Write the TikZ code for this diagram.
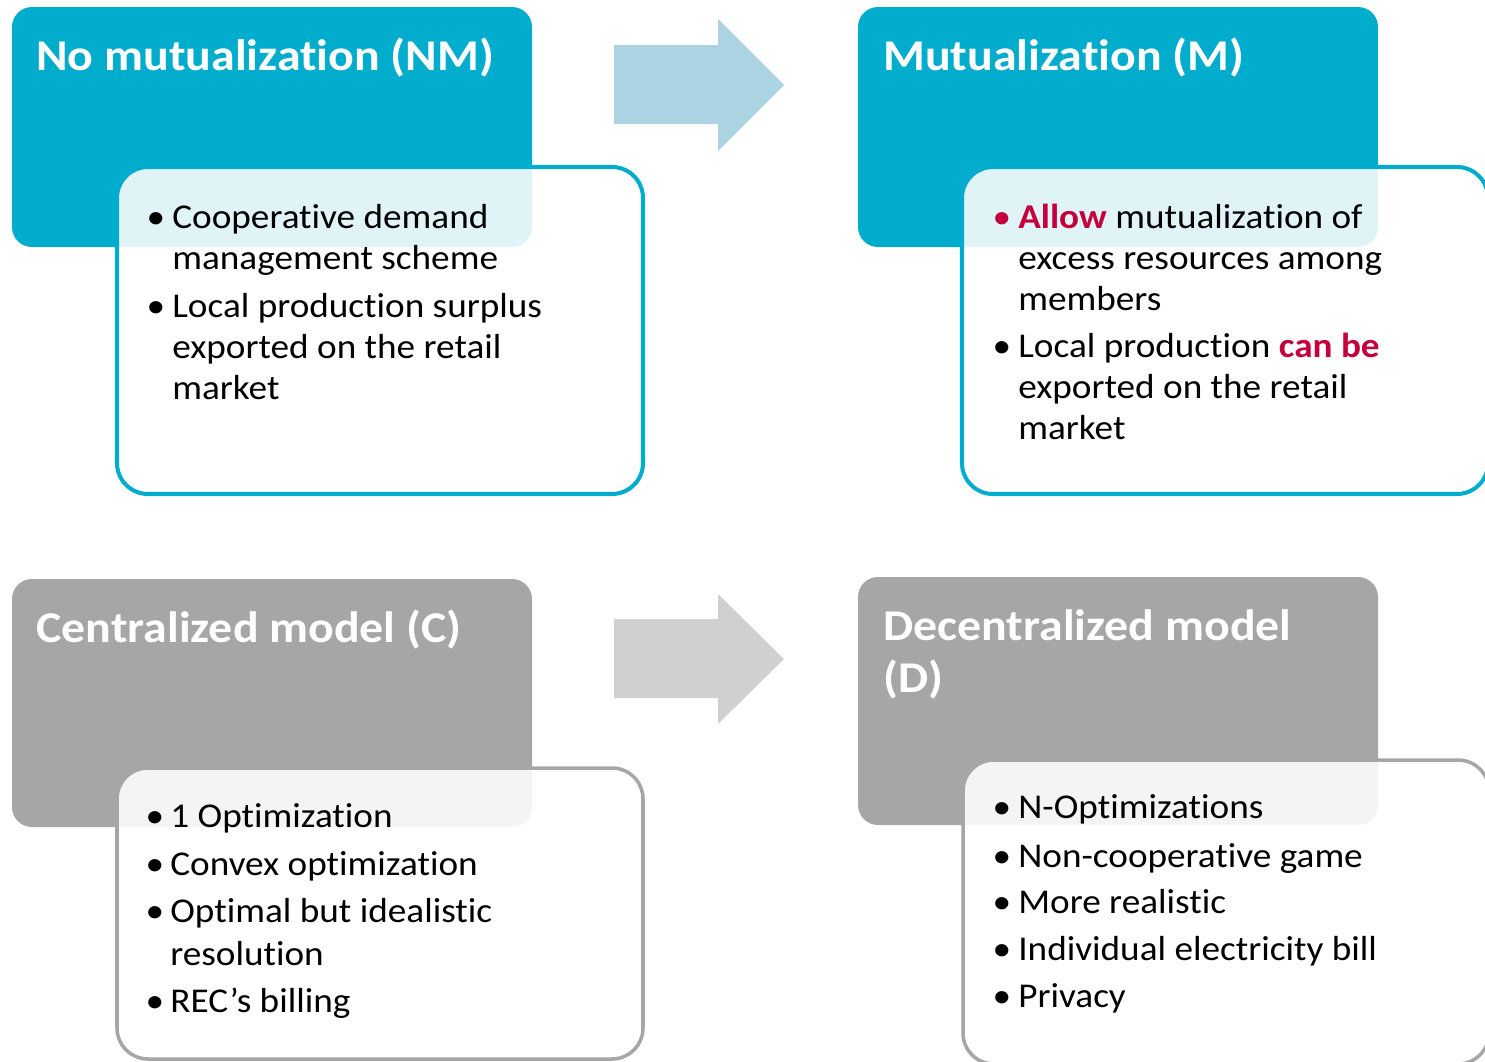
\documentclass[tikz,border=0pt]{standalone}
\usepackage{fontspec}
\setmainfont{Carlito}[FakeStretch=1.07, Ligatures=NoCommon]
\newfontfamily\titlefont{Carlito}[FakeStretch=1.09, Ligatures=NoCommon]
\definecolor{boxblue}{RGB}{2,172,204}
\definecolor{arrblue}{RGB}{172,211,226}
\definecolor{boxgrey}{RGB}{166,166,166}
\definecolor{arrgrey}{RGB}{208,208,208}
\definecolor{accent}{RGB}{196,0,60}
\begin{document}
\begin{tikzpicture}[x=0.02cm,y=-0.02cm,
  headbox/.style={rounded corners=0.4cm},
  listbox/.style={rounded corners=0.62cm, fill=white, fill opacity=0.88},
  title/.style={anchor=base west, inner sep=0pt, text=white,
    font=\titlefont\fontsize{25}{30}\selectfont\bfseries},
  btext/.style={anchor=base west, inner sep=0pt,
    font=\fontsize{19.8}{23.5}\selectfont},
  bdot/.style={anchor=base, inner sep=0pt, font=\fontsize{19.8}{23.5}\selectfont}]
\useasboundingbox (0,0) rectangle (1485,1062);

% ---------- top left: No mutualization ----------
\fill[boxblue, headbox] (12,7) rectangle (532,247);
\path[listbox, draw=boxblue, line width=2.3pt] (117,167) rectangle (643,494);
\node[title] (tNM) at (36,70) {No mutualization (NM)};
\node[bdot] (dNM1) at (156,228) {•};
\node[btext] (bNM1) at (172,228) {\vtop{\hbox{Cooperative demand}\hbox{management scheme}}};
\node[bdot] (dNM2) at (156,317) {•};
\node[btext] (bNM2) at (172,317) {\vtop{\hbox{Local production surplus}\hbox{exported on the retail}\hbox{market}}};

% ---------- arrow top ----------
\fill[arrblue] (614,45) -- (718,45) -- (718,19) -- (784,85) -- (718,151) -- (718,124) -- (614,124) -- cycle;

% ---------- top right: Mutualization ----------
\fill[boxblue, headbox] (858,7) rectangle (1378,247);
\path[listbox, draw=boxblue, line width=2.3pt] (962,167) rectangle (1488,494);
\node[title] (tM) at (883,70) {Mutualization (M)};
\node[bdot, text=accent] (dM1) at (1002,228) {•};
\node[btext] (bM1) at (1018,228) {\vtop{\hbox{\textcolor{accent}{\textbf{Allow}} mutualization of}\hbox{excess resources among}\hbox{members}}};
\node[bdot] (dM2) at (1002,357) {•};
\node[btext] (bM2) at (1018,357) {\vtop{\hbox{Local production \textcolor{accent}{\textbf{can be}}}\hbox{exported on the retail}\hbox{market}}};

% ---------- bottom left: Centralized ----------
\fill[boxgrey, headbox] (12,579) rectangle (532,827);
\path[listbox, draw=boxgrey, line width=2pt] (117,768) rectangle (643,1059);
\node[title] (tC) at (36,642) {Centralized model (C)};
\node[bdot] (dC1) at (155,827) {•};
\node[btext] (bC1) at (170,827) {1 Optimization};
\node[bdot] (dC2) at (155,875) {•};
\node[btext] (bC2) at (170,875) {Convex optimization};
\node[bdot] (dC3) at (155,922) {•};
\node[btext] (bC3) at (170,922) {\vtop{\baselineskip=24.5pt\hbox{Optimal but idealistic}\hbox{resolution}}};
\node[bdot] (dC4) at (155,1012) {•};
\node[btext] (bC4) at (170,1012) {REC’s billing};

% ---------- arrow bottom ----------
\fill[arrgrey] (614,619) -- (718,619) -- (718,594) -- (784,659) -- (718,724) -- (718,698) -- (614,698) -- cycle;

% ---------- bottom right: Decentralized ----------
\fill[boxgrey, headbox] (858,577) rectangle (1378,825);
\path[listbox, draw=boxgrey, line width=2pt] (963,760) rectangle (1489,1064);
\node[title] (tD) at (883,640) {\vtop{\hbox{Decentralized model}\hbox{(D)}}};
\node[bdot] (dD1) at (1002,818) {•};
\node[btext] (bD1) at (1018,818) {N-Optimizations};
\node[bdot] (dD2) at (1002,867) {•};
\node[btext] (bD2) at (1018,867) {Non-cooperative game};
\node[bdot] (dD3) at (1002,913) {•};
\node[btext] (bD3) at (1018,913) {More realistic};
\node[bdot] (dD4) at (1002,960) {•};
\node[btext] (bD4) at (1018,960) {Individual electricity bill};
\node[bdot] (dD5) at (1002,1007) {•};
\node[btext] (bD5) at (1018,1007) {Privacy};
\end{tikzpicture}
\end{document}
